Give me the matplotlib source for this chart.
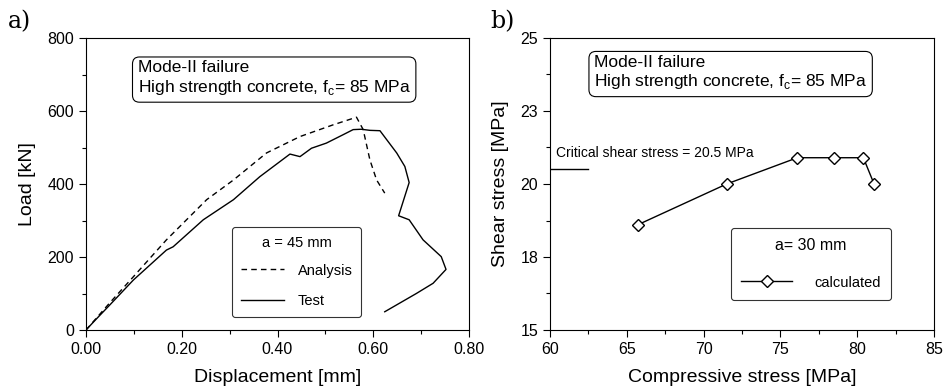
import numpy as np
import matplotlib.pyplot as plt
from matplotlib.ticker import MultipleLocator

plt.rcParams['font.family'] = ['Liberation Sans', 'DejaVu Sans']

# a) load-displacement
disp_analysis = [0.0, 0.05, 0.099, 0.168, 0.252, 0.308, 0.377, 0.447, 0.516, 0.565, 0.579, 0.593, 0.607, 0.624]
load_analysis = [0, 75, 146, 247, 357, 411, 485, 530, 562, 583, 549, 466, 411, 375]

disp_test = [0.0, 0.02, 0.050, 0.099, 0.168, 0.182, 0.245, 0.308, 0.363, 0.426, 0.447, 0.471, 0.502,
             0.537, 0.558, 0.575, 0.593, 0.614, 0.649, 0.666, 0.675, 0.653, 0.675, 0.704, 0.742,
             0.752, 0.725, 0.690, 0.624]
load_test = [0, 28, 69, 137, 219, 228, 302, 357, 420, 482, 475, 498, 512,
             535, 549, 550, 547, 546, 485, 448, 404, 313, 302, 247, 201,
             166, 128, 100, 50]

# b) shear vs compressive stress
comp_stress = [65.7, 71.5, 76.1, 78.5, 80.4, 81.1]
shear_stress = [18.6, 20.0, 20.9, 20.9, 20.9, 20.0]
critical_shear = 20.5

box_text = 'Mode-II failure\nHigh strength concrete, f$_\\mathregular{c}$= 85 MPa'

fig = plt.figure(figsize=(9.53, 3.92), dpi=100)
ax1 = fig.add_axes([86/953, 62/392, 383/953, 292/392])
ax2 = fig.add_axes([550/953, 62/392, 384/953, 292/392])

for ax in (ax1, ax2):
    ax.tick_params(which='both', direction='out', top=False, right=False, labelsize=11.5, width=0.8)
    ax.tick_params(which='major', length=5)
    ax.tick_params(which='minor', length=3)
    for s in ax.spines.values():
        s.set_linewidth(0.8)

# panel a
ax1.plot(disp_analysis, load_analysis, 'k--', lw=1.0, dashes=(4, 3), label='Analysis')
ax1.plot(disp_test, load_test, 'k-', lw=1.0, label='Test')
ax1.set_xlim(0, 0.8)
ax1.set_ylim(0, 800)
ax1.xaxis.set_major_locator(MultipleLocator(0.2))
ax1.xaxis.set_minor_locator(MultipleLocator(0.1))
ax1.yaxis.set_major_locator(MultipleLocator(200))
ax1.yaxis.set_minor_locator(MultipleLocator(100))
ax1.xaxis.set_major_formatter(plt.FormatStrFormatter('%.2f'))
ax1.set_xlabel('Displacement [mm]', fontsize=14, labelpad=9)
ax1.set_ylabel('Load [kN]', fontsize=14, labelpad=8)
ax1.text(0.135, 0.861, box_text, transform=ax1.transAxes, fontsize=12.5, va='center', ha='left',
         linespacing=1.2,
         bbox=dict(boxstyle='round,pad=0.3,rounding_size=0.4', fc='white', ec='black', lw=0.8))
leg1 = ax1.legend(loc='upper left', bbox_to_anchor=(0.381, 0.353), borderaxespad=0,
                  title='a = 45 mm', fontsize=10.5,
                  title_fontsize=10.5, frameon=True, fancybox=True, handlelength=3.0, labelspacing=1.15,
                  borderpad=0.6, handletextpad=0.9)
leg1.get_frame().set_edgecolor('black')
leg1.get_frame().set_linewidth(0.8)
leg1._legend_box.sep = 10
fig.text(8/953, 1 - 22/392, 'a)', fontsize=17, family='DejaVu Serif', va='center')

# panel b
ax2.plot(comp_stress, shear_stress, 'k-', lw=1.0, marker='D', mfc='white', mec='black',
         ms=6, mew=1.0, label='calculated')
ax2.plot([60, 62.45], [critical_shear, critical_shear], 'k-', lw=1.0)
ax2.text(60.4, 21.05, 'Critical shear stress = %.1f MPa' % critical_shear, fontsize=10, va='center')
ax2.set_xlim(60, 85)
ax2.set_ylim(15, 25)
ax2.xaxis.set_major_locator(MultipleLocator(5))
ax2.xaxis.set_minor_locator(MultipleLocator(2.5))
ax2.set_yticks([15, 17.5, 20, 22.5, 25])
ax2.set_yticklabels(['15', '18', '20', '23', '25'])
ax2.yaxis.set_minor_locator(MultipleLocator(1.25))
ax2.set_xlabel('Compressive stress [MPa]', fontsize=14, labelpad=9)
ax2.set_ylabel('Shear stress [MPa]', fontsize=14, labelpad=8)
ax2.text(0.115, 0.88, box_text, transform=ax2.transAxes, fontsize=12.5, va='center', ha='left',
         linespacing=1.2,
         bbox=dict(boxstyle='round,pad=0.3,rounding_size=0.4', fc='white', ec='black', lw=0.8))
leg2 = ax2.legend(loc='upper left', bbox_to_anchor=(0.471, 0.349), borderaxespad=0,
                  title='a= 30 mm', fontsize=10.5,
                  title_fontsize=11.5, frameon=True, fancybox=True, handlelength=3.5, labelspacing=0.8,
                  borderpad=0.7, handletextpad=1.5)
leg2.get_frame().set_edgecolor('black')
leg2.get_frame().set_linewidth(0.8)
leg2._legend_box.sep = 16
fig.text(490/953, 1 - 22/392, 'b)', fontsize=17, family='DejaVu Serif', va='center')

fig.savefig('out.png', dpi=100)
